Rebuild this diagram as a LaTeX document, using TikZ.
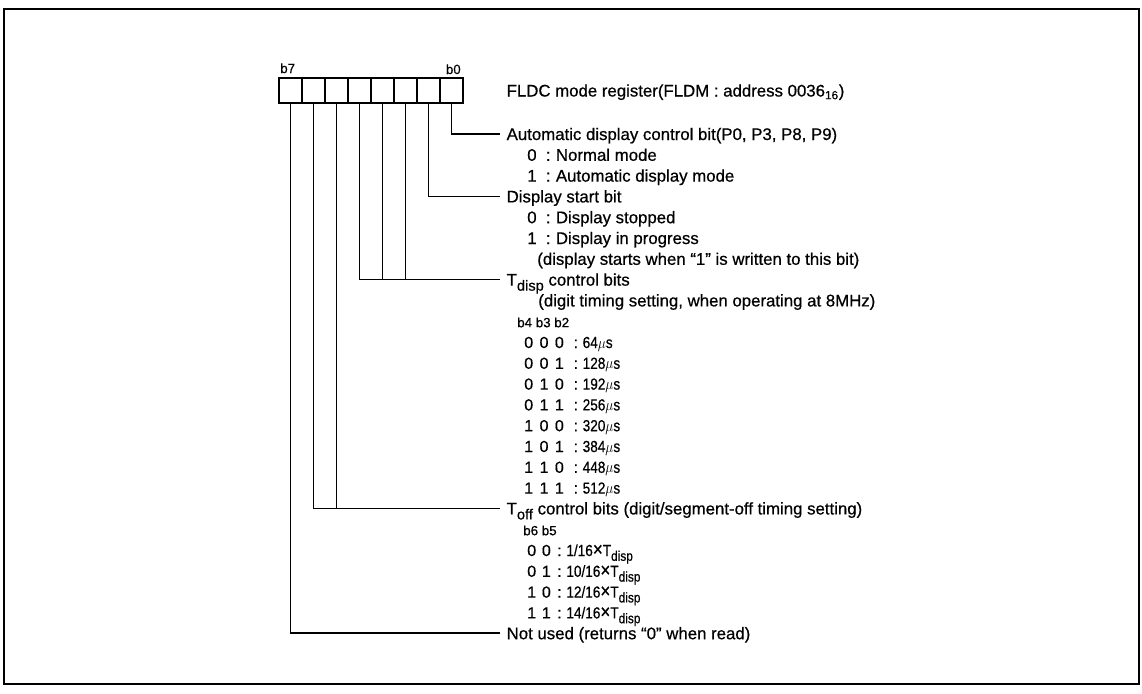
\documentclass[tikz,border=0pt]{standalone}
\usepackage{graphicx}
\usepackage{fontspec}
\setmainfont{Liberation Sans}[FakeBold=0.6]
\newcommand\Tsub[2][10.5]{T\raisebox{-0.3em}{\fontsize{#1}{#1}\selectfont #2}}
\newcommand\cz[1]{\scalebox{0.85}[1]{#1}}
\newcommand\mulx{\scalebox{1.25}{×}}
\newcommand\srow[2]{\makebox[14pt][l]{#1}:\hspace{4pt}#2}
\newcommand\tdrow[4]{\makebox[11.5pt][l]{#1}\makebox[11.5pt][l]{#2}\makebox[14pt][l]{#3}:\hspace{3.5pt}\cz{#4}}
\newcommand\tfrow[3]{\makebox[11pt][l]{#1}\makebox[11.5pt][l]{#2}:\hspace{3.5pt}\cz{#3}}
\begin{document}
\begin{tikzpicture}[x=0.75pt,y=-0.75pt,
  every node/.style={inner sep=0pt, font=\fontsize{12.6}{15}\selectfont},
  cell/.style={draw, line width=1.2pt, minimum width=17.25pt, minimum height=18.75pt},
  lab/.style={anchor=west, text height=9pt, text depth=0pt, outer xsep=5pt},
  sub/.style={anchor=base west},
  tab/.style={anchor=base west, font=\fontsize{12}{14}\selectfont},
  bhead/.style={anchor=base west, font=\fontsize{10}{11}\selectfont},
  bitlab/.style={anchor=base west, font=\fontsize{10}{11}\selectfont},
  conn/.style={line width=1.1pt}]
\useasboundingbox (0,0) rectangle (1142,693);
\draw[line width=1.7pt] (4,9) rectangle (1139,684);
% register cells
\foreach \k in {0,...,7}{
  \node[cell] (c\k) at ({451.5-23*\k},90.5) {};
}
\node[bitlab] (b7) at (280,73) {b7};
\node[bitlab, anchor=base east] (b0) at (461,74) {b0};
\node[lab] (reg) at (500,90.5) {FLDC mode register(FLDM : address 0036\textsubscript{16})};
% labels
\node[lab] (l0) at (500,134) {Automatic display control bit(P0, P3, P8, P9)};
\node[sub] (s1) at (527,160.8) {\srow{0}{Normal mode}};
\node[sub] (s2) at (527,181.6) {\srow{1}{Automatic display mode}};
\node[lab] (l3) at (500,196.4) {Display start bit};
\node[sub] (s4) at (527,223.2) {\srow{0}{Display stopped}};
\node[sub] (s5) at (527,244) {\srow{1}{Display in progress}};
\node[sub] (s6) at (537,264.8) {(display starts when “1” is written to this bit)};
\node[lab] (l7) at (500,279.6) {\Tsub[11]{disp} control bits};
\node[sub] (s8) at (538,306.4) {(digit timing setting, when operating at 8MHz)};
\node[bhead] (h9) at (517,327.2) {b4 b3 b2};
\node[tab] (t10) at (524,348) {\tdrow{0}{0}{0}{64$\mu$s}};
\node[tab] (t11) at (524,368.8) {\tdrow{0}{0}{1}{128$\mu$s}};
\node[tab] (t12) at (524,389.6) {\tdrow{0}{1}{0}{192$\mu$s}};
\node[tab] (t13) at (524,410.4) {\tdrow{0}{1}{1}{256$\mu$s}};
\node[tab] (t14) at (524,431.2) {\tdrow{1}{0}{0}{320$\mu$s}};
\node[tab] (t15) at (524,452) {\tdrow{1}{0}{1}{384$\mu$s}};
\node[tab] (t16) at (524,472.8) {\tdrow{1}{1}{0}{448$\mu$s}};
\node[tab] (t17) at (524,493.6) {\tdrow{1}{1}{1}{512$\mu$s}};
\node[lab] (l18) at (500,508.4) {\Tsub[11]{off} control bits (digit/segment-off timing setting)};
\node[bhead] (h19) at (523,535.2) {b6 b5};
\node[tab] (t20) at (527,556) {\tfrow{0}{0}{1/16\mulx\Tsub{disp}}};
\node[tab] (t21) at (527,576.8) {\tfrow{0}{1}{10/16\mulx\Tsub{disp}}};
\node[tab] (t22) at (527,597.6) {\tfrow{1}{0}{12/16\mulx\Tsub{disp}}};
\node[tab] (t23) at (527,618.4) {\tfrow{1}{1}{14/16\mulx\Tsub{disp}}};
\node[lab] (l24) at (500,633.2) {Not used (returns “0” when read)};
% connectors
\draw[conn] (c0.south) |- (l0.west);
\draw[conn] (c1.south) |- (l3.west);
\draw[conn] (c4.south) |- (l7.west);
\draw[conn] (c3.south) -- (c3.south |- l7.west);
\draw[conn] (c2.south) -- (c2.south |- l7.west);
\draw[conn] (c6.south) |- (l18.west);
\draw[conn] (c5.south) -- (c5.south |- l18.west);
\draw[conn] (c7.south) |- (l24.west);
\end{tikzpicture}
\end{document}
